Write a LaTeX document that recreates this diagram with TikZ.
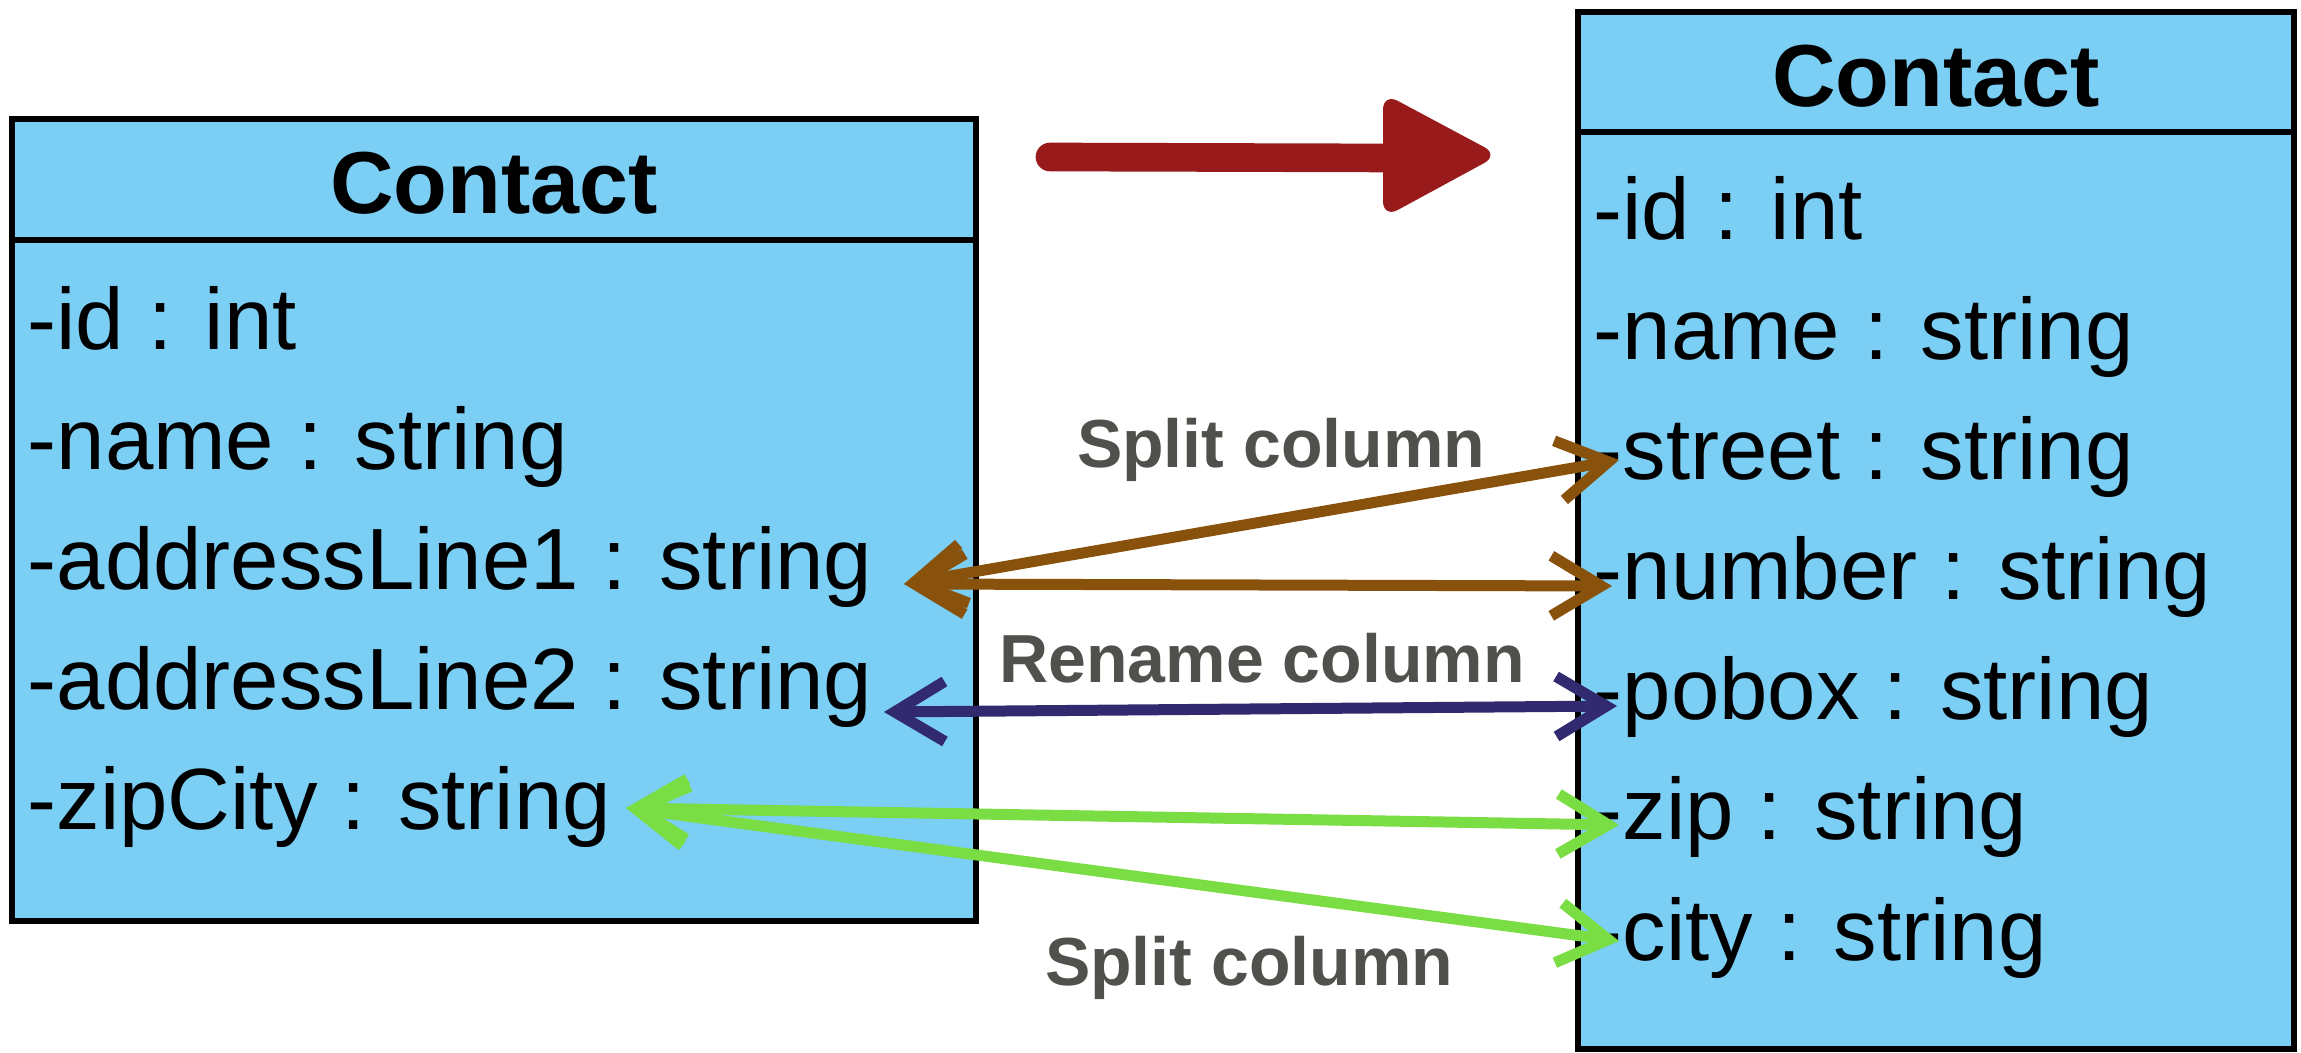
\documentclass[tikz,border=0pt]{standalone}
\usepackage{fontspec}
\setmainfont{Liberation Sans}
\usetikzlibrary{arrows.meta}
\definecolor{boxblue}{RGB}{123,206,244}
\definecolor{arrbrown}{RGB}{137,82,12}
\definecolor{arrnavy}{RGB}{50,42,110}
\definecolor{arrgreen}{RGB}{122,221,68}
\definecolor{labgray}{RGB}{80,80,76}
\definecolor{brushred}{RGB}{152,26,26}
\tikzset{
  boxline/.style={draw=black, line width=1.9pt, fill=boxblue},
  divline/.style={draw=black, line width=1.9pt},
  attr/.style={inner sep=0pt, anchor=base west, font=\fontsize{26.1pt}{30pt}\selectfont},
  hdr/.style={inner sep=0pt, anchor=base, font=\fontsize{26.4pt}{30pt}\selectfont\bfseries},
  lab/.style={inner sep=0pt, anchor=base, text=labgray, font=\fontsize{20.4pt}{24pt}\selectfont\bfseries},
  maparrow/.style={line width=3.3pt, {Straight Barb[length=15pt,width=18pt]}-{Straight Barb[length=15pt,width=18pt]}},
}
\begin{document}
\begin{tikzpicture}[x=0.3pt,y=-0.3pt]
\useasboundingbox (0,0) rectangle (2301,1053);
% left class
\path[boxline] (12,119) rectangle (976,921);
\draw[divline] (12,240) -- (976,240);
\node[hdr] (lhead) at (494,214) {Contact};
\node[attr] (lid)   at (27,350) {-id : int};
\node[attr] (lname) at (27,470) {-name : string};
\node[attr] (lal1)  at (27,590) {-addressLine1 : string};
\node[attr] (lal2)  at (27,710) {-addressLine2 : string};
\node[attr] (lzip)  at (27,830) {-zipCity : string};
% right class
\path[boxline] (1578,12) rectangle (2294,1049);
\draw[divline] (1578,132) -- (2294,132);
\node[hdr] (rhead) at (1936,107) {Contact};
\node[attr] (rid)     at (1593,240) {-id : int};
\node[attr] (rname)   at (1593,360) {-name : string};
\node[attr] (rstreet) at (1593,480) {-street : string};
\node[attr] (rnumber) at (1593,600) {-number : string};
\node[attr] (rpobox)  at (1593,720) {-pobox : string};
\node[attr] (rzip)    at (1593,840) {-zip : string};
\node[attr] (rcity)   at (1593,960) {-city : string};
% red brush arrow
\coordinate (rs) at (1050,157);
\coordinate (re) at (1395,158);
\draw[brushred, line width=8.6pt, line cap=round] (rs) -- (re);
\fill[brushred, rounded corners=5pt] (1383,93) -- (1499,155) -- (1383,218) -- cycle;
% arrow end points
\coordinate (a1) at (904,584);
\coordinate (a2) at (884,712);
\coordinate (zc) at (626,808);
\coordinate (st) at (1619,460);
\coordinate (nu) at (1612,586);
\coordinate (po) at (1617,706);
\coordinate (zi) at (1619,825);
\coordinate (ci) at (1619,941);
% connectors
\draw[maparrow, arrbrown] (a1) -- (st);
\draw[maparrow, arrbrown] (a1) -- (nu);
\draw[maparrow, arrnavy] (a2) -- (po);
\draw[maparrow, arrgreen] (zc) -- (zi);
\draw[maparrow, arrgreen] (zc) -- (ci);
% labels
\node[lab] (l1) at (1281,468) {Split column};
\node[lab] (l2) at (1262,683) {Rename column};
\node[lab] (l3) at (1249,985) {Split column};
\end{tikzpicture}
\end{document}
